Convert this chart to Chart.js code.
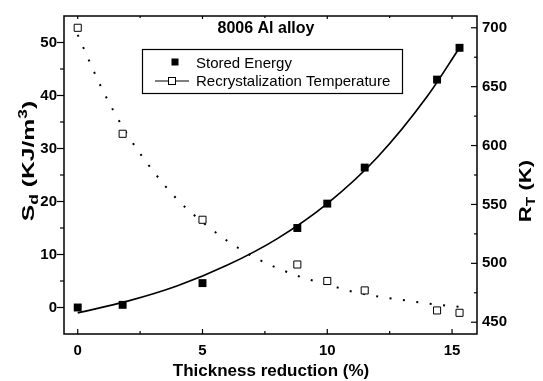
<!DOCTYPE html>
<html>
<head>
<meta charset="utf-8">
<title>8006 Al alloy</title>
<script src="https://cdn.jsdelivr.net/npm/chart.js@4.4.1/dist/chart.umd.min.js"></script>
<style>
  body { margin: 0; background: #fff; }
  #chart { display: block; }
</style>
</head>
<body>
<canvas id="chart" width="543" height="381"></canvas>
<script>
// measured samples, thickness reduction in %
const reduction = [0, 1.8, 5, 8.8, 10, 11.5, 14.4, 15.3];
const storedEnergy = [0, 0.5, 4.6, 15.0, 19.6, 26.4, 43.0, 49.0];   // KJ/m3
const recrystTemp = [700, 610, 537, 499, 485, 477, 460, 458];      // K

// fitted curves
const energyFitX = [0, 2, 4, 6, 8, 10, 12, 14, 15.3];
const energyFitY = [-1.0, 1.2, 4.1, 8.0, 13.0, 19.6, 28.3, 39.8, 49.0];
const tempFitX = [0, 1, 2, 3, 4, 5, 6, 7, 8, 9, 10, 11, 12, 13, 14, 15.3];
const tempFitY = [694, 647, 609, 579, 554, 535, 519, 506, 496, 488, 482, 476, 472, 469, 466, 463];

const xTicks = [0, 5, 10, 15];
const xMinorTicks = [2.5, 7.5, 12.5];
const energyTicks = [0, 10, 20, 30, 40, 50];
const energyMinorTicks = [5, 15, 25, 35, 45];
const tempTicks = [450, 500, 550, 600, 650, 700];
const tempMinorTicks = [475, 525, 575, 625, 675];

const FONT = '"Liberation Sans", Arial, sans-serif';

function pts(xs, ys) {
  return xs.map((x, i) => ({x: x, y: ys[i]}));
}

function fixTicks(values) {
  return function (scale) { scale.ticks = values.map(v => ({value: v})); };
}

// text with sub/superscripts, centred on (cx, cy) baseline, sx stretches along the text
function drawRich(ctx, parts, cx, cy, angle, sx) {
  ctx.save();
  ctx.translate(cx, cy);
  ctx.rotate(angle);
  ctx.scale(sx || 1, 1);
  ctx.textAlign = 'left';
  ctx.textBaseline = 'alphabetic';
  let total = 0;
  parts.forEach(p => {
    ctx.font = 'bold ' + p.size + 'px ' + FONT;
    p.w = ctx.measureText(p.text).width;
    total += p.w;
  });
  let x = -total / 2;
  parts.forEach(p => {
    ctx.font = 'bold ' + p.size + 'px ' + FONT;
    ctx.fillText(p.text, x, p.dy || 0);
    x += p.w;
  });
  ctx.restore();
}

const framePlugin = {
  id: 'frame',
  afterDatasetsDraw(chart) {
    const {ctx, chartArea: a, scales} = chart;
    ctx.save();
    ctx.strokeStyle = '#000';
    ctx.fillStyle = '#000';
    ctx.lineWidth = 1.5;
    ctx.strokeRect(a.left, a.top, a.right - a.left, a.bottom - a.top);

    ctx.lineWidth = 1.2;
    const line = (x1, y1, x2, y2) => {
      ctx.beginPath(); ctx.moveTo(x1, y1); ctx.lineTo(x2, y2); ctx.stroke();
    };
    // bottom ticks point in, top ticks small
    xTicks.forEach(v => {
      const px = scales.x.getPixelForValue(v);
      line(px, a.bottom, px, a.bottom - 5);
      line(px, a.top, px, a.top + 3);
    });
    xMinorTicks.forEach(v => {
      const px = scales.x.getPixelForValue(v);
      line(px, a.bottom, px, a.bottom - 3);
      line(px, a.top, px, a.top + 2);
    });
    // left axis ticks point out
    energyTicks.forEach(v => {
      const py = scales.y.getPixelForValue(v);
      line(a.left, py, a.left - 7, py);
    });
    energyMinorTicks.forEach(v => {
      const py = scales.y.getPixelForValue(v);
      line(a.left, py, a.left - 4, py);
    });
    // right axis ticks point in
    tempTicks.forEach(v => {
      const py = scales.y1.getPixelForValue(v);
      line(a.right, py, a.right - 6, py);
    });
    tempMinorTicks.forEach(v => {
      const py = scales.y1.getPixelForValue(v);
      line(a.right, py, a.right - 3, py);
    });

    // titles
    ctx.textAlign = 'center';
    ctx.textBaseline = 'alphabetic';
    ctx.font = 'bold 16px ' + FONT;
    ctx.fillText('8006 Al alloy', 266, 33);
    ctx.font = 'bold 17px ' + FONT;
    ctx.fillText('Thickness reduction (%)', 271, 376);

    drawRich(ctx, [
      {text: 'S', size: 17},
      {text: 'd', size: 12, dy: 4},
      {text: ' (KJ/m', size: 17},
      {text: '3', size: 12, dy: -7},
      {text: ')', size: 17}
    ], 33.5, 161, -Math.PI / 2, 1.45);

    drawRich(ctx, [
      {text: 'R', size: 17},
      {text: 'T', size: 12, dy: 4},
      {text: ' (K)', size: 17}
    ], 531, 191, -Math.PI / 2, 1.3);

    // legend box
    ctx.lineWidth = 1.2;
    ctx.strokeRect(142.5, 49.5, 260, 44);
    ctx.fillRect(171.5, 58.5, 7, 7);
    line(155, 81, 189, 81);
    ctx.fillStyle = '#fff';
    ctx.fillRect(168, 77, 8, 8);
    ctx.lineWidth = 1;
    ctx.strokeRect(168.5, 77.5, 7, 7);
    ctx.fillStyle = '#000';
    ctx.textAlign = 'left';
    ctx.font = '15px ' + FONT;
    ctx.fillText('Stored Energy', 196, 67.5);
    ctx.fillText('Recrystalization Temperature', 196, 86);
    ctx.restore();
  }
};

new Chart(document.getElementById('chart'), {
  type: 'scatter',
  data: {
    datasets: [
      {
        label: 'Stored Energy',
        data: pts(reduction, storedEnergy),
        yAxisID: 'y',
        showLine: false,
        pointStyle: 'rect',
        pointRadius: 5.6,
        pointBackgroundColor: '#000',
        pointBorderColor: '#000',
        pointBorderWidth: 0
      },
      {
        label: 'Recrystalization Temperature',
        data: pts(reduction, recrystTemp),
        yAxisID: 'y1',
        showLine: false,
        pointStyle: 'rect',
        pointRadius: 5,
        pointBackgroundColor: '#fff',
        pointBorderColor: '#000',
        pointBorderWidth: 1
      },
      {
        label: 'energy fit',
        data: pts(energyFitX, energyFitY),
        yAxisID: 'y',
        showLine: true,
        pointRadius: 0,
        borderColor: '#000',
        borderWidth: 1.7,
        cubicInterpolationMode: 'monotone'
      },
      {
        label: 'temperature fit',
        data: pts(tempFitX, tempFitY),
        yAxisID: 'y1',
        showLine: true,
        pointRadius: 0,
        borderColor: '#000',
        borderWidth: 2,
        borderDash: [2, 11.5],
        cubicInterpolationMode: 'monotone'
      }
    ]
  },
  options: {
    responsive: false,
    animation: false,
    devicePixelRatio: 1,
    layout: {padding: {top: 9, left: 0, right: 0, bottom: 0}},
    plugins: {
      legend: {display: false},
      tooltip: {enabled: false}
    },
    scales: {
      x: {
        type: 'linear',
        position: 'bottom',
        min: -0.55,
        max: 16,
        afterBuildTicks: fixTicks(xTicks),
        afterFit: s => { s.height = 47; },
        grid: {display: false, drawTicks: false},
        border: {display: false},
        ticks: {color: '#000', padding: 8, font: {family: FONT, size: 15, weight: 'bold'}}
      },
      y: {
        type: 'linear',
        position: 'left',
        min: -5,
        max: 55,
        afterBuildTicks: fixTicks(energyTicks),
        afterFit: s => { s.width = 64; },
        grid: {display: false, drawTicks: false},
        border: {display: false},
        ticks: {color: '#000', padding: 7, font: {family: FONT, size: 15, weight: 'bold'}}
      },
      y1: {
        type: 'linear',
        position: 'right',
        min: 440,
        max: 710,
        afterBuildTicks: fixTicks(tempTicks),
        afterFit: s => { s.width = 66; },
        grid: {display: false, drawTicks: false},
        border: {display: false},
        ticks: {color: '#000', padding: 5, font: {family: FONT, size: 15, weight: 'bold'}}
      }
    }
  },
  plugins: [framePlugin]
});
</script>
</body>
</html>
